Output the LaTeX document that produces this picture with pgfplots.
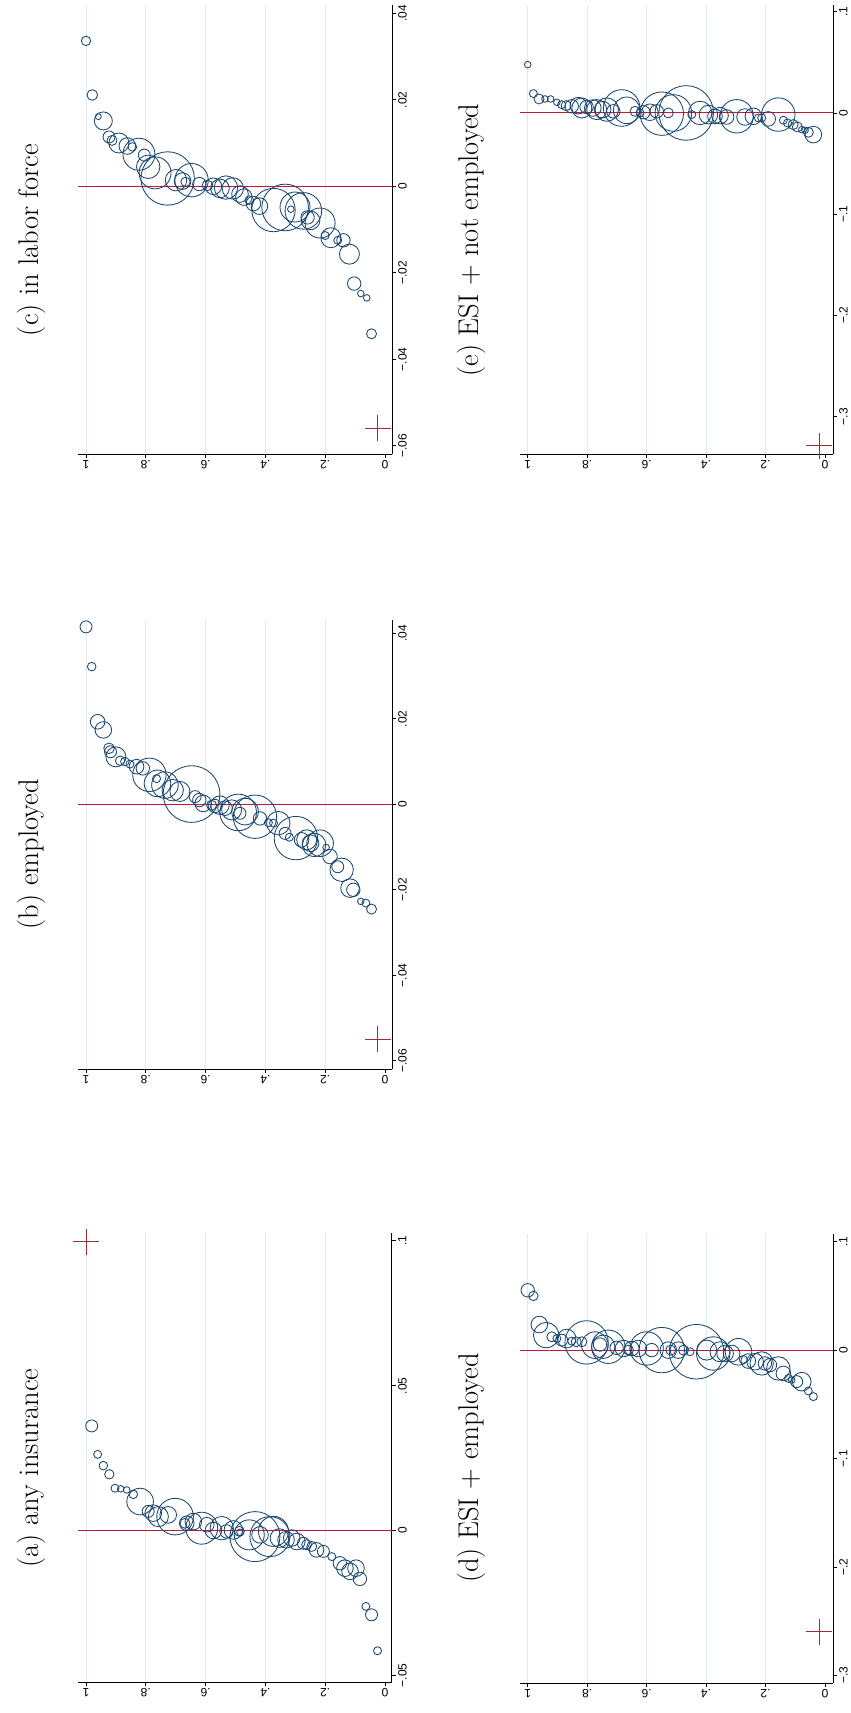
\documentclass[border=0pt]{standalone}
\usepackage{fontspec}
\usepackage{pgfplots}
\usepackage{pgfplotstable}
\pgfplotsset{compat=1.18}
\newfontfamily\tickfont{Liberation Sans}
\definecolor{stnavy}{RGB}{26,71,111}
\definecolor{redline}{RGB}{200,20,55}
\definecolor{pluscol}{RGB}{150,45,55}
\definecolor{gridc}{RGB}{225,235,238}

\pgfplotstableread{
s c r
1.000 0.0336 4.7
0.979 0.0211 5.3
0.959 0.0161 3.0
0.942 0.0151 9.0
0.923 0.0114 6.0
0.913 0.0106 5.0
0.890 0.0100 10.0
0.862 0.0093 8.3
0.845 0.0091 4.3
0.823 0.0074 16.0
0.805 0.0072 6.0
0.792 0.0045 11.7
0.769 0.0031 16.0
0.727 0.0018 26.7
0.699 0.0014 10.7
0.677 0.0012 8.3
0.667 0.0010 4.7
0.647 0.0014 16.7
0.621 0.0005 6.7
0.594 0.0002 5.3
0.574 0.0000 8.3
0.552 -0.0005 9.3
0.532 -0.0003 11.7
0.509 -0.0005 10.7
0.485 -0.0018 8.3
0.472 -0.0025 8.3
0.454 -0.0032 4.3
0.440 -0.0040 7.3
0.420 -0.0046 8.3
0.373 -0.0055 21.7
0.334 -0.0049 23.3
0.315 -0.0053 3.3
0.301 -0.0048 15.0
0.273 -0.0057 18.3
0.259 -0.0072 6.7
0.249 -0.0079 9.3
0.217 -0.0085 15.0
0.200 -0.0114 4.0
0.181 -0.0119 10.0
0.158 -0.0125 4.0
0.139 -0.0125 6.7
0.119 -0.0157 10.0
0.103 -0.0225 6.7
0.081 -0.0248 3.3
0.061 -0.0258 3.3
0.045 -0.0341 5.0
}\tabc

\pgfplotstableread{
s c r
1.000 0.0415 6.0
0.981 0.0322 4.3
0.961 0.0193 7.3
0.942 0.0174 8.3
0.923 0.0131 5.3
0.918 0.0123 6.0
0.900 0.0111 10.0
0.886 0.0102 4.7
0.870 0.0100 4.3
0.853 0.0094 4.0
0.831 0.0088 7.3
0.810 0.0084 6.7
0.788 0.0069 16.7
0.764 0.0060 4.0
0.761 0.0049 13.3
0.736 0.0045 13.3
0.710 0.0033 10.7
0.686 0.0030 10.0
0.647 0.0024 28.3
0.635 0.0018 6.0
0.621 0.0010 6.7
0.608 0.0002 8.3
0.580 -0.0002 5.0
0.569 -0.0004 6.7
0.552 -0.0002 9.3
0.535 -0.0009 7.3
0.513 -0.0013 10.0
0.491 -0.0019 18.3
0.485 -0.0021 6.0
0.468 -0.0017 13.3
0.435 -0.0029 21.7
0.418 -0.0033 6.7
0.390 -0.0043 4.0
0.373 -0.0044 4.0
0.357 -0.0044 11.7
0.334 -0.0068 6.0
0.320 -0.0077 4.0
0.298 -0.0079 21.7
0.279 -0.0083 7.3
0.262 -0.0083 10.0
0.249 -0.0091 8.3
0.237 -0.0095 11.7
0.217 -0.0091 13.3
0.197 -0.0101 3.3
0.184 -0.0122 7.3
0.158 -0.0146 6.0
0.145 -0.0153 11.7
0.117 -0.0196 9.3
0.106 -0.0200 6.7
0.081 -0.0227 3.3
0.064 -0.0231 4.0
0.045 -0.0245 5.0
}\tabb

\pgfplotstableread{
s c r
0.981 0.0361 6.0
0.961 0.0263 4.0
0.942 0.0224 4.3
0.922 0.0194 4.7
0.903 0.0146 4.0
0.884 0.0144 3.3
0.864 0.0140 3.3
0.842 0.0125 4.3
0.819 0.0100 13.3
0.792 0.0066 6.0
0.775 0.0060 8.3
0.758 0.0048 10.0
0.725 0.0054 8.3
0.702 0.0048 18.3
0.669 0.0025 5.0
0.663 0.0025 7.3
0.641 0.0031 8.3
0.613 0.0008 16.0
0.596 0.0020 7.3
0.574 0.0000 8.3
0.546 0.0008 11.7
0.530 -0.0003 6.7
0.507 0.0002 9.3
0.487 -0.0003 5.0
0.485 -0.0006 3.3
0.454 -0.0015 15.0
0.435 -0.0021 25.0
0.418 -0.0015 8.3
0.385 -0.0021 20.0
0.373 -0.0003 15.0
0.353 -0.0026 9.3
0.331 -0.0032 8.3
0.312 -0.0026 8.3
0.295 -0.0038 8.3
0.273 -0.0044 6.0
0.262 -0.0049 5.0
0.245 -0.0055 5.0
0.229 -0.0067 7.3
0.206 -0.0072 6.0
0.178 -0.0090 4.0
0.151 -0.0113 6.7
0.134 -0.0130 8.3
0.117 -0.0141 8.3
0.097 -0.0130 8.3
0.084 -0.0167 6.7
0.064 -0.0262 4.0
0.045 -0.0291 6.0
0.025 -0.0415 4.0
}\taba

\pgfplotstableread{
s c r
1.000 0.0477 3.3
0.981 0.0191 4.0
0.962 0.0138 5.0
0.942 0.0138 3.3
0.923 0.0138 3.3
0.902 0.0105 3.3
0.886 0.0082 4.0
0.871 0.0072 5.0
0.852 0.0066 6.7
0.830 0.0072 8.3
0.818 0.0049 10.0
0.802 0.0059 6.7
0.781 0.0049 8.3
0.768 0.0033 10.0
0.748 0.0033 8.3
0.734 0.0033 11.7
0.712 0.0016 6.7
0.684 0.0049 18.3
0.667 0.0026 13.3
0.639 0.0016 5.0
0.622 0.0000 4.0
0.611 0.0007 6.7
0.589 0.0007 8.3
0.566 0.0016 6.7
0.549 -0.0007 21.7
0.527 0.0000 5.0
0.510 0.0000 18.3
0.467 0.0000 27.3
0.448 -0.0016 4.0
0.420 0.0000 11.7
0.392 -0.0016 9.3
0.370 -0.0033 7.3
0.353 -0.0026 8.3
0.331 -0.0040 7.3
0.297 -0.0033 16.7
0.269 -0.0040 8.3
0.241 -0.0033 8.3
0.224 -0.0049 4.0
0.213 -0.0049 4.0
0.191 -0.0059 7.3
0.157 -0.0016 16.7
0.140 -0.0072 4.0
0.126 -0.0099 4.0
0.107 -0.0115 5.0
0.093 -0.0138 5.0
0.078 -0.0165 3.3
0.067 -0.0171 3.3
0.056 -0.0191 5.0
0.039 -0.0214 8.3
}\tabe

\pgfplotstableread{
s c r
1.000 0.0552 6.7
0.981 0.0500 4.7
0.961 0.0236 8.3
0.938 0.0138 12.7
0.919 0.0123 5.0
0.902 0.0107 4.0
0.886 0.0092 6.0
0.869 0.0107 9.3
0.852 0.0083 4.0
0.837 0.0077 5.0
0.818 0.0077 5.0
0.802 0.0071 21.7
0.774 0.0046 13.3
0.757 0.0052 6.7
0.746 0.0031 11.7
0.729 0.0031 16.7
0.701 0.0021 6.7
0.678 0.0015 8.3
0.661 0.0000 5.0
0.650 0.0015 7.3
0.628 0.0015 8.3
0.600 0.0015 16.7
0.583 0.0000 6.7
0.549 0.0000 22.7
0.527 0.0000 8.3
0.519 0.0000 5.0
0.493 0.0000 8.3
0.476 0.0000 5.0
0.454 -0.0015 4.0
0.432 -0.0015 27.3
0.398 0.0000 10.0
0.376 -0.0031 16.7
0.353 -0.0015 10.0
0.336 -0.0031 8.3
0.314 -0.0031 8.3
0.291 -0.0015 13.3
0.275 -0.0086 4.0
0.258 -0.0101 7.3
0.235 -0.0107 8.3
0.213 -0.0123 11.7
0.202 -0.0123 6.7
0.185 -0.0138 6.7
0.157 -0.0169 11.7
0.140 -0.0215 7.3
0.123 -0.0261 4.0
0.112 -0.0276 3.3
0.095 -0.0291 6.0
0.078 -0.0291 9.3
0.056 -0.0377 4.0
0.039 -0.0429 4.0
}\tabd

\pgfplotsset{
  panel/.style={
    scale only axis, height=449pt, anchor=south west, clip=false,
    x dir=reverse, scaled x ticks=false, scaled y ticks=false,
    axis x line*=bottom, axis y line*=right,
    axis line style={line width=1pt, black},
    tick align=outside, major tick length=4pt,
    tick style={line width=0.8pt, black},
    xtick={0.2,0.4,0.6,0.8,1}, xticklabels={.2,.4,.6,.8,1},
    extra x ticks={0}, extra x tick labels={0},
    extra x tick style={grid=none, tick align=outside, major tick length=4pt},
    xmajorgrids, ymajorgrids=false,
    grid style={color=gridc, line width=0.7pt},
    xticklabel style={rotate=180, anchor=south, font=\tickfont\fontsize{12}{12}\selectfont, inner sep=2pt},
    yticklabel style={rotate=90, anchor=north, font=\tickfont\fontsize{12}{12}\selectfont, inner sep=2pt},
  },
  bubble/.style={scatter, only marks, mark=o,
    scatter/use mapped color={draw=stnavy},
    visualization depends on={\thisrow{r}\as\rad},
    scatter/@pre marker code/.append style={/tikz/mark size=\rad pt},
    mark options={line width=0.85pt}},
  zline/.style={redline, line width=1.1pt},
  plusm/.style={only marks, mark=+, mark size=13pt, mark options={pluscol, line width=0.8pt}},
}
\newcommand{\titlefont}{\fontsize{28.5}{30}\selectfont}

\begin{document}
\begin{tikzpicture}
\path[use as bounding box] (0,0) rectangle (851pt,-1713pt);

% (c) in labor force
\begin{axis}[panel, at={(78pt,-454pt)}, width=314pt,
  xmin=-0.0234, xmax=1.0268, ymin=-0.0619, ymax=0.0419,
  ytick={-0.06,-0.04,-0.02,0,0.02,0.04}, yticklabels={−.06,−.04,−.02,0,.02,.04}]
\addplot[bubble] table[x=s,y=c] {\tabc};
\addplot[zline] coordinates {(-0.0234,0) (1.0268,0)};
\addplot[plusm] coordinates {(0.024,-0.056)};
\end{axis}
\node[rotate=90, anchor=base, inner sep=0pt, font=\titlefont] at (38pt,-240pt) {(c) in labor force};

% (b) employed
\begin{axis}[panel, at={(78pt,-1069pt)}, width=314pt,
  xmin=-0.0234, xmax=1.0268, ymin=-0.0619, ymax=0.0431,
  ytick={-0.06,-0.04,-0.02,0,0.02,0.04}, yticklabels={−.06,−.04,−.02,0,.02,.04}]
\addplot[bubble] table[x=s,y=c] {\tabb};
\addplot[zline] coordinates {(-0.0234,0) (1.0268,0)};
\addplot[plusm] coordinates {(0.024,-0.0549)};
\end{axis}
\node[rotate=90, anchor=base, inner sep=0pt, font=\titlefont] at (38pt,-854pt) {(b) employed};

% (a) any insurance
\begin{axis}[panel, at={(78pt,-1682pt)}, width=314pt,
  xmin=-0.0234, xmax=1.0268, ymin=-0.0523, ymax=0.1027,
  ytick={-0.05,0,0.05,0.1}, yticklabels={−.05,0,.05,.1}]
\addplot[bubble] table[x=s,y=c] {\taba};
\addplot[zline] coordinates {(-0.0234,0) (1.0268,0)};
\addplot[plusm] coordinates {(1.0,0.0997)};
\end{axis}
\node[rotate=90, anchor=base, inner sep=0pt, font=\titlefont] at (38pt,-1468pt) {(a) any insurance};

% (e) ESI + not employed
\begin{axis}[panel, at={(520pt,-454pt)}, width=313pt,
  xmin=-0.027, xmax=1.026, ymin=-0.3368, ymax=0.1066,
  ytick={-0.3,-0.2,-0.1,0,0.1}, yticklabels={−.3,−.2,−.1,0,.1}]
\addplot[bubble] table[x=s,y=c] {\tabe};
\addplot[zline] coordinates {(-0.027,0) (1.026,0)};
\addplot[plusm] coordinates {(0.019,-0.3286)};
\end{axis}
\node[rotate=90, anchor=base, inner sep=0pt, font=\titlefont] at (478pt,-240pt) {(e) ESI + not employed};

% (d) ESI + employed
\begin{axis}[panel, at={(520pt,-1683pt)}, width=313pt,
  xmin=-0.027, xmax=1.026, ymin=-0.3071, ymax=0.1071,
  ytick={-0.3,-0.2,-0.1,0,0.1}, yticklabels={−.3,−.2,−.1,0,.1}]
\addplot[bubble] table[x=s,y=c] {\tabd};
\addplot[zline] coordinates {(-0.027,0) (1.026,0)};
\addplot[plusm] coordinates {(0.019,-0.2598)};
\end{axis}
\node[rotate=90, anchor=base, inner sep=0pt, font=\titlefont] at (478pt,-1468pt) {(d) ESI + employed};

\end{tikzpicture}
\end{document}
